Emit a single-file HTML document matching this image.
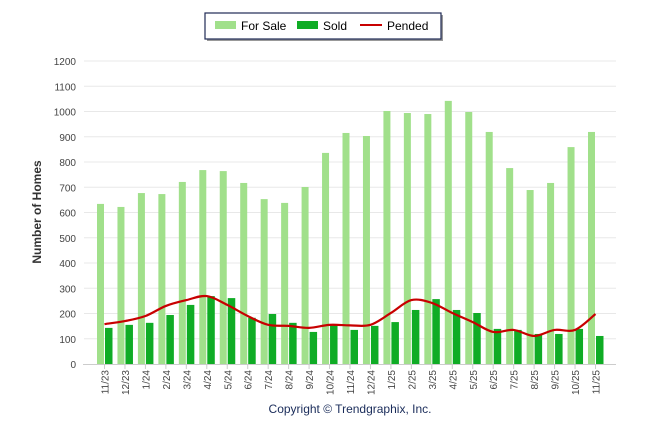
<!DOCTYPE html>
<html><head><meta charset="utf-8"><style>
body{margin:0;background:#fff;font-family:"Liberation Sans",sans-serif;}
svg text{font-family:"Liberation Sans",sans-serif;}
</style></head><body>
<svg id="chart" width="646" height="434">
<rect x="207" y="15" width="236" height="26" fill="#999"/>
<rect x="205" y="13" width="236" height="26" fill="#fff" stroke="#1f2a55" stroke-width="1.2"/>
<rect x="215" y="21" width="21" height="8" fill="#a1e08b"/>
<text x="241" y="30" font-size="12" fill="#000">For Sale</text>
<rect x="297" y="21" width="21" height="8" fill="#0fac25"/>
<text x="323" y="30" font-size="12" fill="#000">Sold</text>
<line x1="360" y1="25" x2="382" y2="25" stroke="#c80000" stroke-width="2"/>
<text x="387" y="30" font-size="12" fill="#000">Pended</text>
<g id="grid"></g><g id="bars"></g><g id="xlabels"></g>
<text transform="translate(41,212) rotate(-90)" text-anchor="middle" font-size="12" font-weight="bold" fill="#333">Number of Homes</text>
<text x="350" y="413" text-anchor="middle" font-size="12" fill="#1a2c5a">Copyright © Trendgraphix, Inc.</text>
</svg>
<script>
const categories=["11/23","12/23","1/24","2/24","3/24","4/24","5/24","6/24","7/24","8/24","9/24","10/24","11/24","12/24","1/25","2/25","3/25","4/25","5/25","6/25","7/25","8/25","9/25","10/25","11/25"];
const forSale=[634,622,677,673,721,768,764,717,653,638,701,836,915,903,1002,994,990,1042,998,919,776,689,717,859,919];
const sold=[143,155,163,194,234,269,261,183,198,163,127,155,135,151,166,214,257,214,202,139,135,119,119,139,111];
const pended=[158,170,190,230,253,269,234,190,155,151,143,155,153,155,202,253,242,202,166,127,135,111,135,135,198];
const yTicks=[0,100,200,300,400,500,600,700,800,900,1000,1100,1200];
const NS="http://www.w3.org/2000/svg";
const y0=364,y1=61,yMax=1200;
const yS=v=>y0-(v/yMax)*(y0-y1);
const firstC=104.5,step=(595.5-104.5)/(categories.length-1);
const xC=i=>firstC+i*step;
function mk(tag,attrs,parent){const e=document.createElementNS(NS,tag);for(const k in attrs)e.setAttribute(k,attrs[k]);parent.appendChild(e);return e;}
const grid=document.getElementById('grid'),bars=document.getElementById('bars'),xl=document.getElementById('xlabels'),svg=document.getElementById('chart');
yTicks.forEach(t=>{
 if(t>0){const l=mk('line',{x1:84,x2:616,y1:yS(t),y2:yS(t),stroke:'#e8e8e8','stroke-width':1},grid);
 
 }
 const tx=mk('text',{x:76,y:yS(t)+4,'text-anchor':'end','font-size':10,fill:'#444'},grid);tx.textContent=t;
 
 
});
const ax=mk('line',{x1:83,x2:616,y1:364.5,y2:364.5,stroke:'#ccc'},grid);


categories.forEach((c,i)=>{
 const cx=xC(i);
 const b1=mk('rect',{x:cx-7.5,y:yS(forSale[i]),width:7,height:y0-yS(forSale[i]),fill:'#a1e08b'},bars);
 
 
 const b2=mk('rect',{x:cx+0.5,y:yS(sold[i]),width:7.5,height:y0-yS(sold[i]),fill:'#0fac25'},bars);
 
 
 const tk=mk('line',{x1:cx,x2:cx,y1:364,y2:369,stroke:'#ccc'},xl);
 
 
 const t=mk('text',{transform:`translate(${cx+4},370) rotate(-90)`,'text-anchor':'end','font-size':10,fill:'#444'},xl);t.textContent=c;
 
 
});
const pts=pended.map((v,i)=>[xC(i),yS(v)]);
let d=`M${pts[0][0]},${pts[0][1]}`;
for(let i=0;i<pts.length-1;i++){
 const p0=pts[i-1]||pts[i],p1=pts[i],p2=pts[i+1],p3=pts[i+2]||p2;
 const c1=[p1[0]+(p2[0]-p0[0])/6,p1[1]+(p2[1]-p0[1])/6],c2=[p2[0]-(p3[0]-p1[0])/6,p2[1]-(p3[1]-p1[1])/6];
 d+=` C${c1[0]},${c1[1]} ${c2[0]},${c2[1]} ${p2[0]},${p2[1]}`;
}
const ln=mk('path',{d:d,fill:'none',stroke:'#c80000','stroke-width':2.2},svg);


</script>
</body></html>
